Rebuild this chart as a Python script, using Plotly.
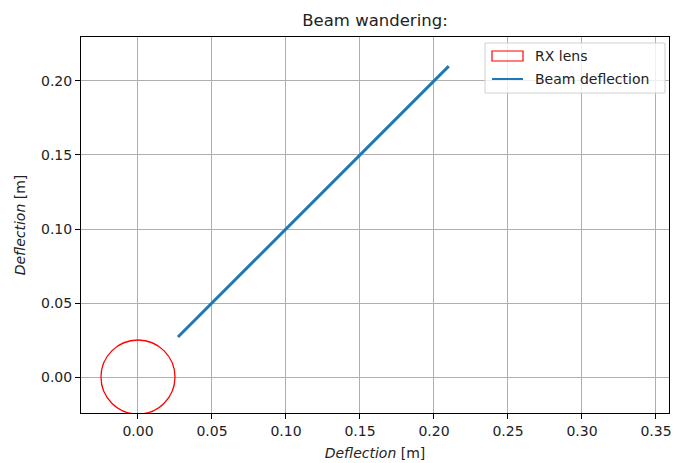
import plotly.graph_objects as go

# RX lens (circle) centre and radius, metres
lens_center = [0.0, 0.0]
lens_radius = 0.025

# Beam deflection track
beam_x = [0.027, 0.05, 0.075, 0.10, 0.125, 0.15, 0.175, 0.19, 0.21]
beam_y = [0.027, 0.05, 0.075, 0.10, 0.125, 0.15, 0.175, 0.19, 0.21]

x_ticks = [0.00, 0.05, 0.10, 0.15, 0.20, 0.25, 0.30, 0.35]
y_ticks = [0.00, 0.05, 0.10, 0.15, 0.20]

font_family = 'DejaVu Sans, sans-serif'
W, H = 673, 463
L, R, T, B = 81, 4, 37, 50


def px_x(p):
    return (p - L) / (W - L - R)


def px_y(p):
    return (H - B - p) / (H - T - B)


fig = go.Figure()

fig.add_shape(type='circle',
              x0=lens_center[0] - lens_radius, x1=lens_center[0] + lens_radius,
              y0=lens_center[1] - lens_radius, y1=lens_center[1] + lens_radius,
              line=dict(color='red', width=1.3), fillcolor='rgba(0,0,0,0)', layer='above')

fig.add_trace(go.Scatter(x=beam_x, y=beam_y, mode='lines', name='Beam deflection',
                         line=dict(color='#1f77b4', width=3), showlegend=False))

# legend drawn by hand, matplotlib style
fig.add_shape(type='rect', xref='paper', yref='paper',
              x0=px_x(485), x1=px_x(665), y0=px_y(93), y1=px_y(43),
              line=dict(color='#d0d0d0', width=1), fillcolor='rgba(255,255,255,0.8)', layer='above')
fig.add_shape(type='rect', xref='paper', yref='paper',
              x0=px_x(492), x1=px_x(523), y0=px_y(61), y1=px_y(51),
              line=dict(color='red', width=1.2), fillcolor='rgba(0,0,0,0)', layer='above')
fig.add_shape(type='line', xref='paper', yref='paper',
              x0=px_x(492), x1=px_x(523), y0=px_y(79), y1=px_y(79),
              line=dict(color='#1f77b4', width=2), layer='above')
for label, py in [('RX lens', 56), ('Beam deflection', 79)]:
    fig.add_annotation(text=label, xref='paper', yref='paper', x=px_x(533), y=px_y(py),
                       xanchor='left', yanchor='middle', showarrow=False,
                       font=dict(size=14, color='#222'))

axis_common = dict(showgrid=True, gridcolor='#b0b0b0', gridwidth=1, zeroline=False,
                   showline=True, linecolor='black', linewidth=1, mirror=True,
                   ticks='outside', ticklen=5, tickcolor='black', tickformat='.2f',
                   tickfont=dict(size=14, color='#222'), automargin=False)

fig.update_layout(
    width=W, height=H,
    margin=dict(l=L, r=R, t=T, b=B),
    plot_bgcolor='white', paper_bgcolor='white',
    font=dict(family=font_family, color='#222'),
    title=dict(text='Beam wandering:', x=375 / W, xanchor='center', y=1 - 20 / H, yanchor='middle',
               font=dict(size=16.5, color='#222')),
    xaxis=dict(axis_common, range=[-0.0385, 0.3588], tickvals=x_ticks,
               title=dict(text='<i>Deflection</i> [m]', font=dict(size=14), standoff=10)),
    yaxis=dict(axis_common, range=[-0.0243, 0.2297], tickvals=y_ticks,
               title=dict(text='<i>Deflection</i> [m]', font=dict(size=14), standoff=12)),
    showlegend=False,
)

fig.write_html("out.html", config={'displayModeBar': False},
               post_script="document.body.style.margin='0';")
